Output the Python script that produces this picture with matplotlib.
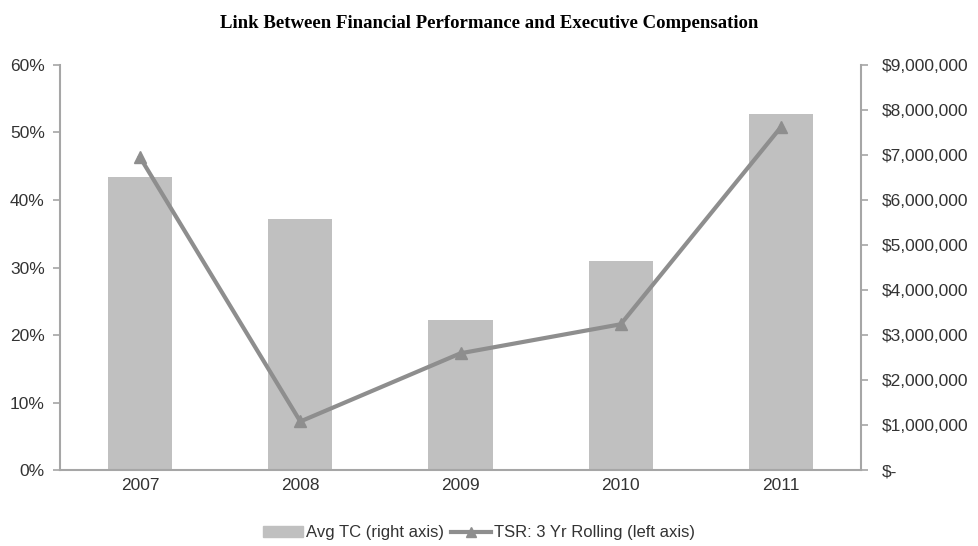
import numpy as np
import matplotlib.pyplot as plt
from matplotlib.lines import Line2D
from matplotlib.patches import Patch

years = ['2007', '2008', '2009', '2010', '2011']
avg_tc = [6510000, 5580000, 3330000, 4650000, 7900000]   # right axis, $
tsr = [46.3, 7.2, 17.3, 21.6, 50.8]                      # left axis, %

left_ticks = [0, 10, 20, 30, 40, 50, 60]
left_labels = ['0%', '10%', '20%', '30%', '40%', '50%', '60%']
right_ticks = [0, 1e6, 2e6, 3e6, 4e6, 5e6, 6e6, 7e6, 8e6, 9e6]
right_labels = ['$-', '$1,000,000', '$2,000,000', '$3,000,000', '$4,000,000',
                '$5,000,000', '$6,000,000', '$7,000,000', '$8,000,000', '$9,000,000']

plt.rcParams['font.family'] = ['Liberation Sans', 'DejaVu Sans']
bar_col = '#c0c0c0'
line_col = '#8e8e8e'
spine_col = '#a6a6a6'
txt_col = '#333333'
fs = 12.5

fig = plt.figure(figsize=(9.79, 5.46), dpi=100)
ax = fig.add_axes([0.0613, 0.139, 0.8182, 0.742])
ax2 = ax.twinx()

x = np.arange(len(years))
# bars on right axis, drawn beneath the line
ax2.bar(x, avg_tc, width=0.4, color=bar_col, zorder=1)
ax2.set_ylim(0, 9e6)
ax2.set_yticks(right_ticks)
ax2.set_yticklabels(right_labels)

ax.plot(x, tsr, color=line_col, lw=3, marker='^', markersize=9, zorder=3)
ax.set_ylim(0, 60)
ax.set_xlim(-0.5, 4.5)
ax.set_yticks(left_ticks)
ax.set_yticklabels(left_labels)
ax.set_xticks(x)
ax.set_xticklabels(years)

# line axis on top of bar axis
ax.set_zorder(ax2.get_zorder() + 1)
ax.patch.set_visible(False)

for a in (ax, ax2):
    a.spines['top'].set_visible(False)
    for s in ['left', 'right', 'bottom']:
        a.spines[s].set_color(spine_col)
        a.spines[s].set_linewidth(1.5)
    a.tick_params(axis='y', colors=spine_col, labelcolor=txt_col, labelsize=fs, length=5, width=1.2)
ax.spines['right'].set_visible(False)
ax2.spines['left'].set_visible(False)
ax2.spines['bottom'].set_visible(False)
ax.tick_params(axis='x', length=0, labelcolor=txt_col, labelsize=fs, pad=6)
ax.tick_params(axis='y', pad=6)
ax2.tick_params(axis='y', pad=10)

fig.suptitle('Link Between Financial Performance and Executive Compensation',
             fontsize=13.5, fontweight='bold', family='Liberation Serif', y=0.972)

handles = [Patch(color=bar_col, label='Avg TC (right axis)'),
           Line2D([0], [0], color=line_col, lw=3, marker='^', markersize=7,
                  label='TSR: 3 Yr Rolling (left axis)')]
leg = fig.legend(handles=handles, loc='center', bbox_to_anchor=(0.489, 0.024), ncol=2,
                 frameon=False, fontsize=12, handlelength=2.4, columnspacing=0.4,
                 handletextpad=0.2)
for t in leg.get_texts():
    t.set_color(txt_col)

fig.savefig('out.png', dpi=100)
